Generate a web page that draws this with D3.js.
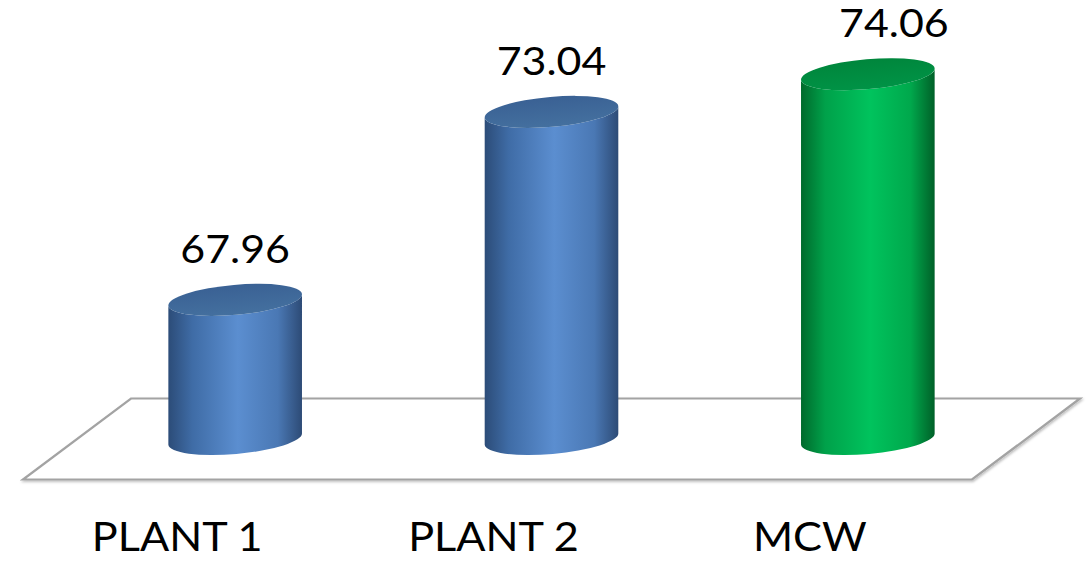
<!DOCTYPE html>
<html>
<head>
<meta charset="utf-8">
<script src="https://cdn.jsdelivr.net/npm/d3@7"></script>
<style>
  body { margin:0; background:#fff; }
  text { font-family: Lato, "Open Sans", sans-serif; fill:#000; }
</style>
</head>
<body>
<svg id="chart" width="1089" height="562"></svg>
<script>
// data
var categories = ['PLANT 1', 'PLANT 2', 'MCW'];
var values = [67.96, 73.04, 74.06];
var seriesColor = ['blue', 'blue', 'green'];
var labelShift = [0, 0, 26]; // value labels are not all centred in the original

var W = 1089, H = 562;
var svg = d3.select('#chart');

var axisMin = 64.2, axisMax = 76;
var x = d3.scaleBand().domain(categories).range([77, 1026]).paddingInner(0.576).paddingOuter(0.288);
var y = d3.scaleLinear().domain([axisMin, axisMax]).range([439, 2.4]);

var depthX = 54, depthY = 40.5;   // half depth of the floor
var rx = x.bandwidth() / 2, ry = 15, tilt = -5;

// gradients
var defs = svg.append('defs');
var grads = {
  blue: {body: ['#2c4c78', '#3f6ca6', '#5b8ed0', '#4a78b4', '#2d4b76'], top: ['#3a6194', '#44709f']},
  green: {body: ['#006a2c', '#00a14a', '#00c35d', '#00a84c', '#006028'], top: ['#00863c', '#009346']}
};
Object.keys(grads).forEach(function(k){
  var g = defs.append('linearGradient').attr('id', 'body-' + k).attr('x1', 0).attr('x2', 1).attr('y1', 0).attr('y2', 0);
  [0, 0.18, 0.52, 0.82, 1].forEach(function(o, i){
    g.append('stop').attr('offset', o).attr('stop-color', grads[k].body[i]);
  });
  var t = defs.append('linearGradient').attr('id', 'top-' + k).attr('x1', 0).attr('x2', 0).attr('y1', 0).attr('y2', 1);
  t.append('stop').attr('offset', 0).attr('stop-color', grads[k].top[0]);
  t.append('stop').attr('offset', 1).attr('stop-color', grads[k].top[1]);
});
var sh = defs.append('filter').attr('id', 'shadow').attr('x', '-5%').attr('y', '-5%').attr('width', '110%').attr('height', '120%');
sh.append('feDropShadow').attr('dx', 1).attr('dy', 1.5).attr('stdDeviation', 1).attr('flood-color', '#000').attr('flood-opacity', 0.25);

// floor
var r = x.range(), fy = y(axisMin);
var floor = [
  [r[0] - depthX, fy + depthY], [r[1] - depthX, fy + depthY],
  [r[1] + depthX, fy - depthY], [r[0] + depthX, fy - depthY]
];
svg.append('polygon')
  .attr('points', floor.map(function(p){ return p.join(','); }).join(' '))
  .attr('fill', '#fff')
  .attr('stroke', '#a3a3a3')
  .attr('stroke-width', 2.2)
  .attr('filter', 'url(#shadow)');

// cylinders
var rad = tilt * Math.PI / 180;
var ex = rx * Math.cos(rad), ey = rx * Math.sin(rad);

var bars = svg.selectAll('g.bar').data(categories).enter().append('g').attr('class', 'bar');

bars.append('path')
  .attr('fill', function(d, i){ return 'url(#body-' + seriesColor[i] + ')'; })
  .attr('d', function(d, i){
    var cx = x(d) + rx, yt = y(values[i]), yb = y(axisMin);
    return 'M' + (cx - ex) + ',' + (yt - ey) +
      'L' + (cx - ex) + ',' + (yb - ey) +
      'A' + rx + ',' + ry + ' ' + tilt + ' 0 0 ' + (cx + ex) + ',' + (yb + ey) +
      'L' + (cx + ex) + ',' + (yt + ey) +
      'A' + rx + ',' + ry + ' ' + tilt + ' 0 1 ' + (cx - ex) + ',' + (yt - ey) + 'Z';
  });

bars.append('ellipse')
  .attr('rx', rx).attr('ry', ry)
  .attr('transform', function(d, i){
    return 'translate(' + (x(d) + rx) + ',' + y(values[i]) + ') rotate(' + tilt + ')';
  })
  .attr('fill', function(d, i){ return 'url(#top-' + seriesColor[i] + ')'; });

// value labels
bars.append('g')
  .attr('transform', function(d, i){
    return 'translate(' + (x(d) + rx + labelShift[i]) + ',' + (y(values[i]) - 37) + ') scale(1.1,1)';
  })
  .append('text')
  .attr('text-anchor', 'middle')
  .style('font-size', '39px')
  .text(function(d, i){ return values[i].toFixed(2); });

// category labels along the front edge of the floor
svg.selectAll('g.cat').data(categories).enter().append('g').attr('class', 'cat')
  .attr('transform', function(d){
    return 'translate(' + (x(d) + rx - 58) + ',551) scale(1.08,1)';
  })
  .append('text')
  .attr('text-anchor', 'middle')
  .style('font-size', '40px')
  .text(function(d){ return d; });
</script>
</body>
</html>
